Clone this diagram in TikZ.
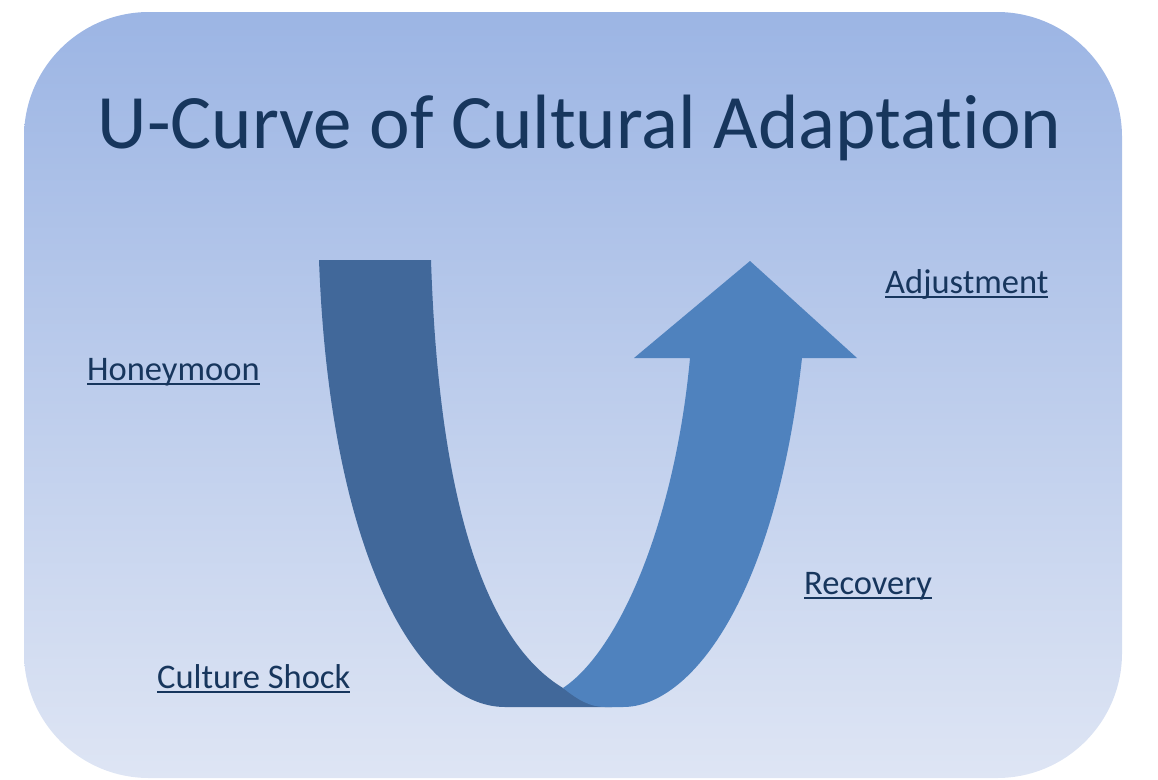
\documentclass[tikz,border=0pt]{standalone}
\usepackage{fontspec}
\setmainfont[RawFeature=-liga]{Carlito}
\usepackage{xcolor}
\usepackage{tikz}
\usetikzlibrary{calc,shapes,positioning}

\definecolor{bgtop}{RGB}{156,181,228}
\definecolor{bgbot}{RGB}{222,229,244}
\definecolor{navy}{RGB}{23,54,93}
\definecolor{bandd}{RGB}{65,104,154}
\definecolor{bandl}{RGB}{79,130,190}

\newcommand*\undertext[1]{\setbox0\hbox{#1}\rlap{\rule[-5pt]{\wd0}{1.6pt}}\box0}

\begin{document}
\begin{tikzpicture}[x=1pt,y=-1pt]
      \tikzstyle{tnode} = [inner sep=0pt, anchor=base, text=navy, font=\fontsize{77}{90}\selectfont]
      \tikzstyle{lnode} = [inner sep=0pt, anchor=base west, text=navy, font=\fontsize{34.5}{40}\selectfont]

      \useasboundingbox (0,0) rectangle (1158,779);
      \shade[top color=bgtop, bottom color=bgbot, rounded corners=125pt] (24,12) rectangle (1122,778);

      % the U
      \fill[bandd] (319,260) -- (431,260) .. controls (440,540) and (500,650) .. (563,688)
            .. controls (580,698) and (595,707) .. (612,707) -- (505,707)
            .. controls (420,707) and (330,560) .. (319,260) -- cycle;
      \fill[bandl] (563,688) .. controls (620,650) and (675,520) .. (690,358) -- (634,358)
            -- (750,261) -- (857,358) -- (802,358)
            .. controls (775,600) and (690,707) .. (623,707) -- (605,707)
            .. controls (590,707) and (578,700) .. (563,688) -- cycle;

      % texts
      \node[tnode] (title) at (579.5,148) {U-Curve of Cultural Adaptation};
      \node[lnode] (honey) at (87,380) {\undertext{Honeymoon}};
      \node[lnode] (shock) at (157,688) {\undertext{Culture Shock}};
      \node[lnode] (adjust) at (885,293) {\undertext{Adjustment}};
      \node[lnode] (recov) at (804,594) {\undertext{Recovery}};
\end{tikzpicture}
\end{document}
